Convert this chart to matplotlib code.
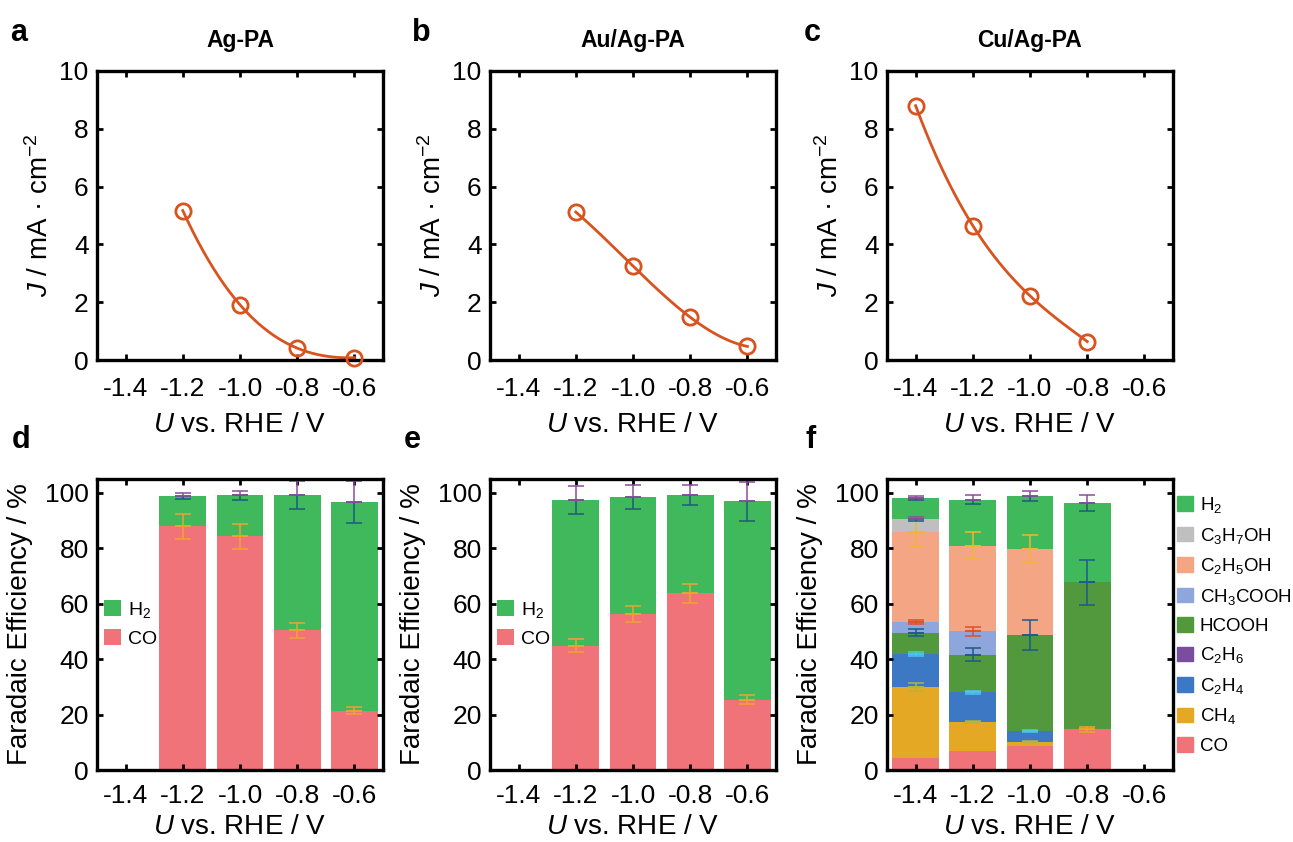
import numpy as np
import matplotlib
matplotlib.use("Agg")
import matplotlib.pyplot as plt
from matplotlib.patches import Patch

plt.rcParams['font.family'] = ['Liberation Sans', 'DejaVu Sans']
plt.rcParams['mathtext.fontset'] = 'custom'
plt.rcParams['mathtext.rm'] = 'Liberation Sans'
plt.rcParams['mathtext.it'] = 'Liberation Sans:italic'
plt.rcParams['mathtext.bf'] = 'Liberation Sans:bold'
plt.rcParams['axes.unicode_minus'] = False

# ---- data ----
ticks = [-1.4, -1.2, -1.0, -0.8, -0.6]
tick_labels = ['-1.4', '-1.2', '-1.0', '-0.8', '-0.6']

# current density (a-c)
u_ag = [-1.2, -1.0, -0.8, -0.6]
j_ag = [5.17, 1.91, 0.41, 0.08]
u_au = [-1.2, -1.0, -0.8, -0.6]
j_au = [5.12, 3.25, 1.48, 0.47]
u_cu = [-1.4, -1.2, -1.0, -0.8]
j_cu = [8.80, 4.65, 2.22, 0.64]

# faradaic efficiency (d, e)
u_fe = [-1.2, -1.0, -0.8, -0.6]
ag_co = [88.0, 84.4, 50.4, 21.4]
ag_h2 = [11.0, 14.8, 48.9, 75.2]
ag_co_err = [4.5, 4.5, 2.7, 1.3]
ag_h2_err = [1.1, 1.6, 5.1, 7.5]

au_co = [44.9, 56.2, 63.7, 25.4]
au_h2 = [52.5, 42.4, 35.6, 71.5]
au_co_err = [2.4, 2.9, 3.3, 1.6]
au_h2_err = [5.2, 4.3, 3.7, 7.1]

# faradaic efficiency (f), stacking order bottom -> top
u_cu_fe = [-1.4, -1.2, -1.0, -0.8]
cu_co = [4.2, 7.0, 8.5, 14.7]
cu_ch4 = [25.8, 10.3, 1.7, 0.0]
cu_c2h4 = [11.8, 10.8, 3.9, 0.0]
cu_c2h6 = [0.0, 0.0, 0.0, 0.0]
cu_hcooh = [7.7, 13.5, 34.7, 53.1]
cu_ch3cooh = [3.9, 8.4, 0.0, 0.0]
cu_c2h5oh = [32.5, 31.0, 31.0, 0.0]
cu_c3h7oh = [4.6, 0.0, 0.0, 0.0]
cu_h2 = [7.6, 16.6, 19.0, 28.6]

cu_co_err = [0.0, 0.0, 0.0, 0.9]
cu_ch4_err = [1.4, 0.5, 0.4, 0.0]
cu_c2h4_err = [0.6, 0.5, 0.3, 0.0]
cu_c2h6_err = [0.0, 0.0, 0.0, 0.0]
cu_hcooh_err = [1.2, 2.3, 5.4, 8.1]
cu_ch3cooh_err = [0.7, 1.5, 0.0, 0.0]
cu_c2h5oh_err = [4.9, 4.9, 4.9, 0.0]
cu_c3h7oh_err = [0.8, 0.0, 0.0, 0.0]
cu_h2_err = [0.8, 1.8, 1.9, 3.0]

# ---- styles ----
LINE_C = '#d9531e'
C_H2 = '#3fb95b'
C_CO = '#f07379'
species = [
    ('CO', cu_co, cu_co_err, C_CO, '#eaa81f'),
    ('CH$_4$', cu_ch4, cu_ch4_err, '#e5a824', '#b5b440'),
    ('C$_2$H$_4$', cu_c2h4, cu_c2h4_err, '#3c78c4', '#4cc6ea'),
    ('C$_2$H$_6$', cu_c2h6, cu_c2h6_err, '#7a4d9f', '#7a4d9f'),
    ('HCOOH', cu_hcooh, cu_hcooh_err, '#52993d', '#1d5a8c'),
    ('CH$_3$COOH', cu_ch3cooh, cu_ch3cooh_err, '#8ea6dc', '#e0502a'),
    ('C$_2$H$_5$OH', cu_c2h5oh, cu_c2h5oh_err, '#f4a583', '#f2b630'),
    ('C$_3$H$_7$OH', cu_c3h7oh, cu_c3h7oh_err, '#bfbfbf', None),
    ('H$_2$', cu_h2, cu_h2_err, C_H2, None),
]
ERR_LO = '#1d5a7d'
ERR_HI = '#8e4b9e'
BAR_W = 0.164
TICK_FS = 19
LABEL_FS = 20

fig = plt.figure(figsize=(12.93, 8.42), dpi=100)
W, H = 1293.0, 842.0
lefts = [97, 490, 887]
aw = 286


def style_axes(ax, ylim, yticks, top_row):
    ax.set_xlim(-1.5, -0.5)
    ax.set_ylim(*ylim)
    ax.set_xticks(ticks)
    ax.set_xticklabels(tick_labels)
    ax.set_yticks(yticks)
    for s in ax.spines.values():
        s.set_linewidth(2.4)
    ax.tick_params(direction='in', length=4.5, width=2.0, top=True, right=True,
                   labelsize=TICK_FS)
    ax.tick_params(axis='x', pad=12 if top_row else 10)
    ax.tick_params(axis='y', pad=6)
    ax.set_xlabel('$U$ vs. RHE / V', fontsize=LABEL_FS)
    ax.xaxis.set_label_coords(0.5, -0.18 if top_row else -0.152)


def two_color_err(ax, x, y, e, lo, hi):
    if e <= 0:
        return
    kw = dict(fmt='none', capsize=5.5, elinewidth=1.1, capthick=1.1)
    ax.errorbar([x], [y], yerr=[[e], [0]], ecolor=lo, **kw)
    ax.errorbar([x], [y], yerr=[[0], [e]], ecolor=hi, **kw)


# ---- top row ----
titles = ['Ag-PA', 'Au/Ag-PA', 'Cu/Ag-PA']
jdata = [(u_ag, j_ag), (u_au, j_au), (u_cu, j_cu)]
for i, (u, j) in enumerate(jdata):
    ax = fig.add_axes([lefts[i] / W, 1 - 360 / H, aw / W, 289 / H])
    coef = np.polyfit(u, j, 3)
    xs = np.linspace(min(u), max(u), 200)
    ax.plot(xs, np.polyval(coef, xs), color=LINE_C, lw=2.0, zorder=2)
    ax.plot(u, j, 'o', mfc='none', mec=LINE_C, mew=2.0, ms=11, zorder=3,
            clip_on=False)
    style_axes(ax, (0, 10), [0, 2, 4, 6, 8, 10], True)
    ax.set_ylabel('$J$ / mA · cm$^{-2}$', fontsize=LABEL_FS)
    ax.yaxis.set_label_coords(-0.15, 0.5)
    ax.set_title(titles[i], fontsize=16.5, fontweight='bold', pad=17)

# ---- bottom row: d, e ----
fe_data = [(ag_co, ag_h2, ag_co_err, ag_h2_err), (au_co, au_h2, au_co_err, au_h2_err)]
for i, (co, h2, co_e, h2_e) in enumerate(fe_data):
    ax = fig.add_axes([lefts[i] / W, 1 - 770 / H, aw / W, 291 / H])
    b_co = ax.bar(u_fe, co, width=BAR_W, color=C_CO, lw=0)
    b_h2 = ax.bar(u_fe, h2, width=BAR_W, bottom=co, color=C_H2, lw=0)
    for k, x in enumerate(u_fe):
        two_color_err(ax, x, co[k], co_e[k], '#f0a232', '#f0a232')
        two_color_err(ax, x, co[k] + h2[k], h2_e[k], ERR_LO, ERR_HI)
    style_axes(ax, (0, 105), [0, 20, 40, 60, 80, 100], False)
    ax.set_ylabel('Faradaic Efficiency / %', fontsize=LABEL_FS)
    ax.yaxis.set_label_coords(-0.225, 0.5)
    ax.legend([b_h2, b_co], ['H$_2$', 'CO'], loc='upper left',
              bbox_to_anchor=(0.025, 0.585), frameon=False, fontsize=14,
              handlelength=0.85, handleheight=0.85, handletextpad=0.4,
              labelspacing=0.5, borderpad=0, borderaxespad=0)

# ---- bottom row: f ----
ax = fig.add_axes([lefts[2] / W, 1 - 770 / H, aw / W, 291 / H])
bottom = np.zeros(len(u_cu_fe))
tops = []
for name, vals, errs, col, ecol in species:
    vals = np.array(vals)
    ax.bar(u_cu_fe, vals, width=BAR_W, bottom=bottom, color=col, lw=0)
    bottom = bottom + vals
    tops.append((bottom.copy(), errs, ecol))
for top, errs, ecol in tops:
    for k, x in enumerate(u_cu_fe):
        if ecol is None:
            two_color_err(ax, x, top[k], errs[k], ERR_LO, ERR_HI)
        else:
            two_color_err(ax, x, top[k], errs[k], ecol, ecol)
style_axes(ax, (0, 105), [0, 20, 40, 60, 80, 100], False)
ax.set_ylabel('Faradaic Efficiency / %', fontsize=LABEL_FS)
ax.yaxis.set_label_coords(-0.225, 0.5)
handles = [Patch(color=s[3]) for s in species[::-1]]
names = [s[0] for s in species[::-1]]
ax.legend(handles, names, loc='upper left', bbox_to_anchor=(1.015, 0.945),
          frameon=False, fontsize=13.5, handlelength=0.85, handleheight=0.85,
          handletextpad=0.35, labelspacing=0.56, borderpad=0, borderaxespad=0)

# ---- panel letters ----
letters = [('a', 10, 41), ('b', 412, 41), ('c', 804, 41),
           ('d', 12, 448), ('e', 404, 448), ('f', 806, 448)]
for t, x, y in letters:
    fig.text(x / W, 1 - y / H, t, fontsize=22, fontweight='bold', va='baseline')

fig.savefig('out.png', dpi=100)
